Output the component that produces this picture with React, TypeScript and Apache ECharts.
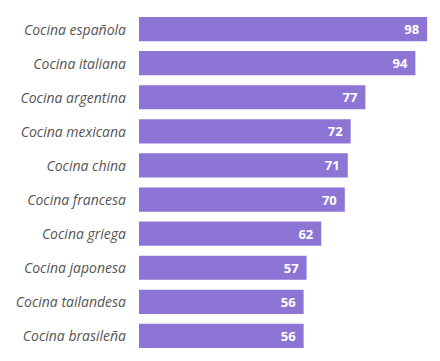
import React, { useEffect, useRef } from "react";
import * as echarts from "echarts";

const categories = [
  "Cocina española",
  "Cocina italiana",
  "Cocina argentina",
  "Cocina mexicana",
  "Cocina china",
  "Cocina francesa",
  "Cocina griega",
  "Cocina japonesa",
  "Cocina tailandesa",
  "Cocina brasileña",
];
const values = [98, 94, 77, 72, 71, 70, 62, 57, 56, 56];

export default function App() {
  const ref = useRef<HTMLDivElement>(null);
  useEffect(() => {
    if (!ref.current) return;
    const chart = echarts.init(ref.current, null, { renderer: "svg" });
    chart.setOption({
      animation: false,
      grid: { left: 139, right: 7, top: 12, bottom: 8, containLabel: false },
      xAxis: {
        type: "value",
        min: 0,
        max: 100,
        show: false,
      },
      yAxis: {
        type: "category",
        data: categories,
        inverse: true,
        axisLine: { show: false },
        axisTick: { show: false },
        axisLabel: {
          margin: 13,
          fontFamily: "Open Sans",
          fontStyle: "italic",
          fontSize: 14,
          color: "#555555",
        },
      },
      series: [
        {
          type: "bar",
          data: values,
          barCategoryGap: "29%",
          itemStyle: { color: "#8c75d5" },
          label: {
            show: true,
            position: "insideRight",
            distance: 8,
            color: "#ffffff",
            fontWeight: "bold",
            fontSize: 13,
            fontFamily: "Open Sans",
          },
        },
      ],
    });
    return () => chart.dispose();
  }, []);
  return <div ref={ref} style={{ width: 440, height: 361, position: "absolute", left: 0, top: 0 }} />;
}
